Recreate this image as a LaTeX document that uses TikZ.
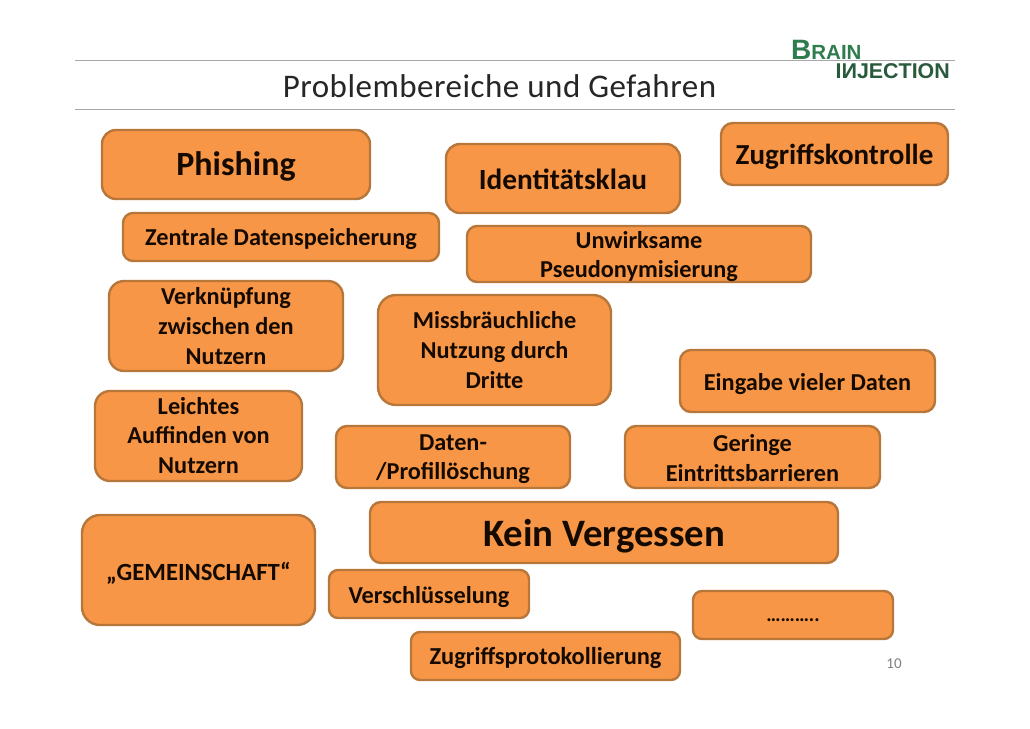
\documentclass[tikz,border=0pt]{standalone}
\usepackage{fontspec}
\setmainfont{Carlito}
\newfontfamily\logofont{Liberation Sans}
\definecolor{boxfill}{HTML}{F79646}
\definecolor{boxedge}{HTML}{B8773A}
\definecolor{rulegray}{HTML}{A8A8A8}
\definecolor{logogreen}{HTML}{2F7D4F}
\definecolor{logodark}{HTML}{2A5A3C}
\newcommand{\fs}[2]{\fontsize{#1pt}{#2pt}\selectfont}
\newcommand{\bx}[9]{%
 % name, x1,y1,x2,y2, radius, text cy, size+leading, text
 \node[cardbox,rounded corners=#6pt,minimum width=#4pt-#2pt,minimum height=#5pt-#3pt] (#1) at ({(#2+#4)/2},{(#3+#5)/2}) {};
 \node[cardtext,font={\bfseries\fs#8}] (#1t) at ({(#2+#4)/2},#7) {#9};}
\tikzset{
 cardbox/.style={draw=boxedge,line width=2.4pt,fill=boxfill,inner sep=0pt,outer sep=0pt},
 cardtext/.style={align=center,inner sep=0pt,text=black!92!orange},
 rulein/.style={draw=rulegray,line width=1pt},
}
\begin{document}
\begin{tikzpicture}[x=1pt,y=-1pt]
\useasboundingbox (0,0) rectangle (1030,728);
\fill[white] (0,0) rectangle (1030,728);
\coordinate (r1a) at (75,60); \coordinate (r1b) at (955,60);
\coordinate (r2a) at (75,109); \coordinate (r2b) at (955,109);
\draw[rulein] (r1a) -- (r1b);
\draw[rulein] (r2a) -- (r2b);
\node[inner sep=0pt,text=black!85] (title) at (499.5,86.5) {\fs{33}{38}\addfontfeature{LetterSpace=1.5}Problembereiche und Gefahren};
\node[inner sep=0pt,anchor=base west,text=logogreen] (logoa) at (791,59.5) {\logofont\bfseries\fs{28}{28}B\fs{20.5}{28}RAIN};
\node[inner sep=0pt,anchor=base east,text=logodark] (logob) at (950,78) {\logofont\bfseries\fs{21.4}{22}I\reflectbox{N}JECTION};
\bx{a}{102}{130}{370}{199}{14}{166.5}{{34}{40}}{Phishing}
\bx{b}{446}{144}{680}{213}{14}{179}{{29.3}{34}}{Identitätsklau}
\bx{c}{721}{123}{948}{185}{12}{157}{{29}{34}}{Zugriffskontrolle}
\bx{d}{123}{213}{439}{261}{10}{239}{{24.3}{30}}{Zentrale Datenspeicherung}
\bx{e}{467}{226}{811}{282}{10}{257}{{24.3}{29}}{Unwirksame\\Pseudonymisierung}
\bx{f}{109}{281}{343}{371}{15}{326}{{24.3}{29.7}}{Verknüpfung\\zwischen den\\Nutzern}
\bx{g}{378}{295}{611}{405}{18}{350}{{24.3}{29.7}}{Missbräuchliche\\Nutzung durch\\Dritte}
\bx{h}{680}{350}{935}{412}{11}{384.5}{{24.3}{30}}{Eingabe vieler Daten}
\bx{i}{95}{391}{302}{481}{15}{435.5}{{24.3}{29.7}}{Leichtes\\Auffinden von\\Nutzern}
\bx{j}{336}{426}{570}{488}{11}{459}{{24.3}{29.5}}{Daten-\\/Profillöschung}
\bx{k}{625}{426}{880}{488}{11}{458}{{24.3}{29.5}}{Geringe\\Eintrittsbarrieren}
\bx{l}{370}{502}{838}{563}{11}{536}{{38.8}{44}}{Kein Vergessen}
\bx{m}{82}{515}{315}{625}{18}{573.5}{{24.7}{30}}{„GEMEINSCHAFT“}
\bx{n}{329}{570}{529}{618}{9}{597}{{24.3}{30}}{Verschlüsselung}
\bx{o}{693}{591}{893}{639}{9}{620}{{20}{24}}{………..}
\bx{p}{411}{632}{680}{680}{9}{658}{{24.4}{30}}{Zugriffsprotokollierung}
\node[inner sep=0pt,text=black!50] (page) at (894,664) {\fs{15}{18}10};
\end{tikzpicture}
\end{document}
